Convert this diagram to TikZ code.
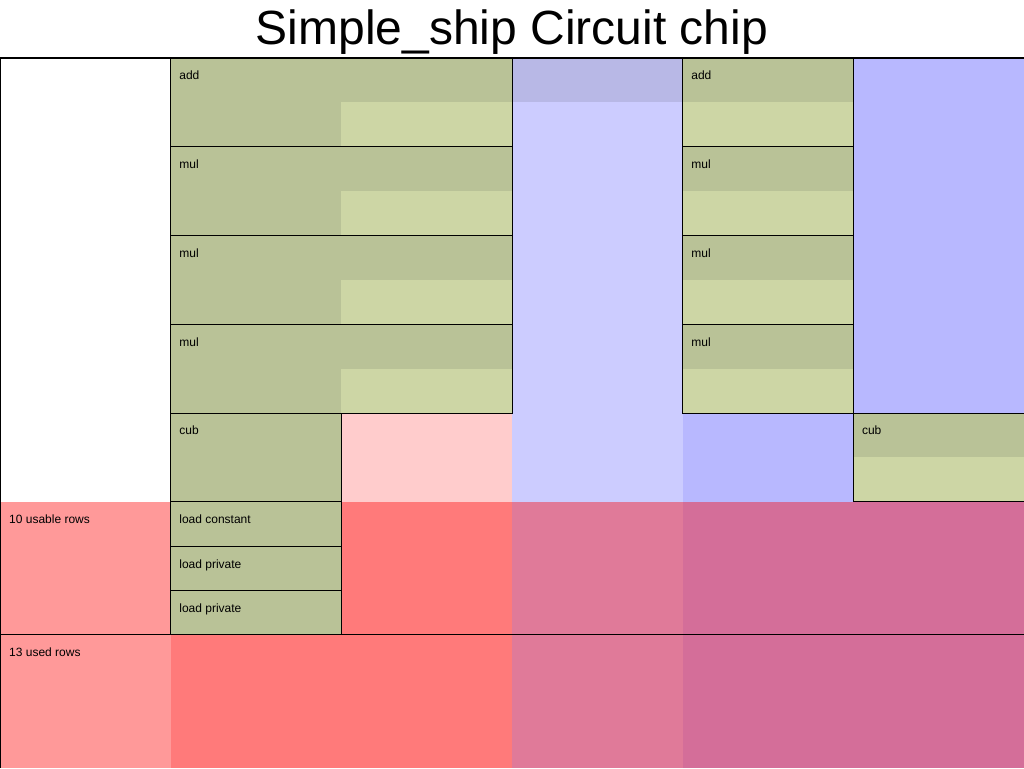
\documentclass[tikz,border=0pt]{standalone}
\usepackage{fontspec}
\setmainfont{Liberation Sans}
\definecolor{usedcell}{RGB}{185,194,151}
\definecolor{freecell}{RGB}{205,214,165}
\definecolor{advicecol}{HTML}{FFCCCC}
\definecolor{fixedcol}{HTML}{CCCCFF}
\definecolor{fixedused}{RGB}{184,184,230}
\definecolor{selectorcol}{HTML}{B8B8FF}
\tikzset {
  % outline of a region and of the chip
  region/.style={draw=black, line width=1pt},
  % cells of a region
  used/.style={fill=usedcell},
  free/.style={fill=freecell},
  % labels of regions and rows
  tag/.style={anchor=north west, inner sep=0pt, font=\fontsize{12}{14}\selectfont},
  heading/.style={anchor=base, inner sep=0pt, font=\fontsize{48}{56}\selectfont},
}
\begin{document}
\begin{tikzpicture}[x=1pt, y=-1pt]
        \useasboundingbox (0,0) rectangle (1024,768);
        \clip (0,0) rectangle (1024,768);

        \node[heading] (title) at (512,45) {Simple\_ship Circuit chip};

        \begin{scope}[shift={(0,58)}, x=170.6667pt, y=-44.375pt]
          % columns
          \fill[advicecol] (1,0) rectangle (3,16);
          \fill[fixedcol] (3,0) rectangle (4,16);
          \fill[fixedused] (3,0) rectangle (4,1);
          \fill[selectorcol] (4,0) rectangle (6,16);

          % rows that can not be used
          \fill[red, fill opacity=0.4] (0,10) rectangle (6,16);

          % region cells
          \fill[free] (2,0) rectangle (3,8);
          \fill[free] (4,0) rectangle (5,8);
          \fill[free] (5,8) rectangle (6,10);
          \fill[used] (1,0) rectangle (2,13);
          \foreach \r in {0,2,4,6} {
            \fill[used] (2,\r) rectangle (3,\r+1);
            \fill[used] (4,\r) rectangle (5,\r+1);
          }
          \fill[used] (5,8) rectangle (6,9);

          % region outlines and names
          \foreach \a/\b/\t/\u/\lbl [count=\i] in {1/3/0/2/add, 1/3/2/4/mul, 1/3/4/6/mul, 1/3/6/8/mul,
              1/2/8/10/cub, 1/2/10/11/load constant, 1/2/11/12/load private, 1/2/12/13/load private,
              4/5/0/2/add, 4/5/2/4/mul, 4/5/4/6/mul, 4/5/6/8/mul, 5/6/8/10/cub} {
            \draw[region] (\a,\t) rectangle (\b,\u);
            \node[tag] (gate\i) at ([shift={(8.5pt,-13pt)}]\a,\t) {\lbl};
          }

          % chip outline and row marks
          \draw[region] (0,16) -- (0,0) -- (6,0);
          \draw[region] (0,13) -- (6,13);
          \node[tag] (usable) at ([shift={(9pt,-13pt)}]0,10) {10 usable rows};
          \node[tag] (usedrows) at ([shift={(9pt,-13pt)}]0,13) {13 used rows};
        \end{scope}
      \end{tikzpicture}
\end{document}
